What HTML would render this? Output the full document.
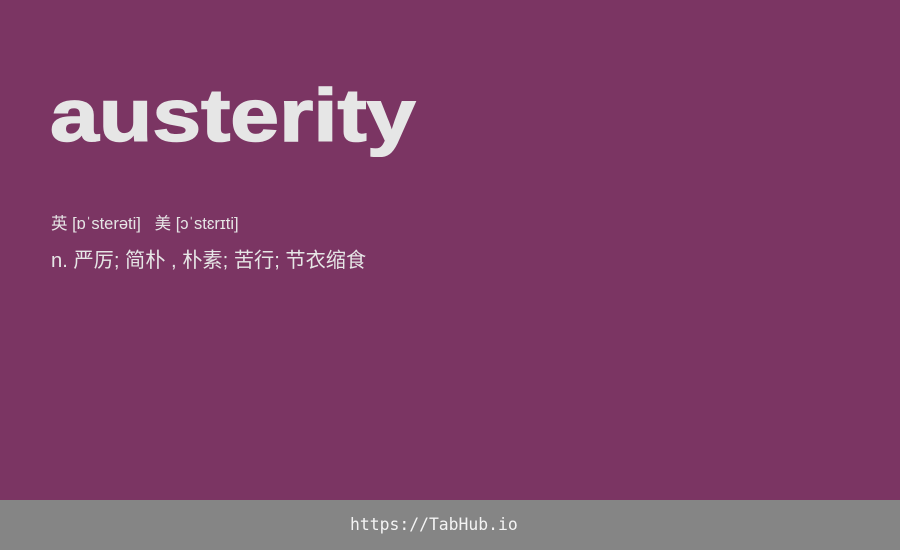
<!DOCTYPE html>
<html><head><meta charset="utf-8"><style>
html,body{margin:0;padding:0}
body{width:900px;height:550px;background:#7b3563;position:relative;overflow:hidden;font-family:"Liberation Sans","Noto Sans CJK SC",sans-serif}
#word{position:absolute;left:50px;top:79px;font-size:74px;line-height:74px;font-weight:bold;color:#e6e6e6;letter-spacing:0;margin:0;transform:scaleX(1.185);transform-origin:0 0;white-space:nowrap;-webkit-text-stroke:1.5px #e6e6e6}
#phon{position:absolute;left:51px;top:214px;font-size:16.5px;line-height:20px;color:#e6e6e6;white-space:pre}
#def{position:absolute;left:51px;top:249px;font-size:20.2px;line-height:24px;color:#e6e6e6;white-space:pre}
#foot{position:absolute;left:0;top:500px;width:900px;height:50px;background:#858585}
#url{position:absolute;left:350px;top:15px;font-family:"DejaVu Sans Mono","Liberation Mono",monospace;font-size:16.4px;line-height:20px;color:#f4f4f4}
</style></head><body>
<h1 id="word">austerity</h1>
<div id="phon">英 [ɒˈsterəti]   美 [ɔˈstɛrɪti]</div>
<div id="def">n. 严厉; 简朴 , 朴素; 苦行; 节衣缩食</div>
<div id="foot"><span id="url">https://TabHub.io</span></div>
</body></html>
